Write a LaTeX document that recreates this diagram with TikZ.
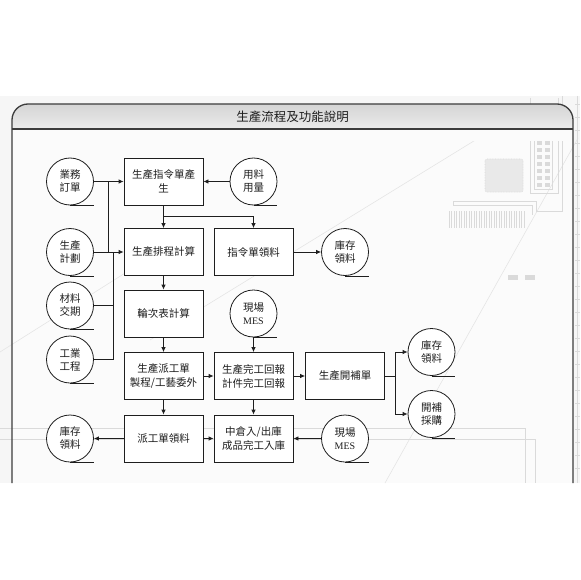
\documentclass[tikz,border=0pt]{standalone}
\usepackage{fontspec}
\setmainfont{Noto Sans CJK TC}
\newfontfamily\latinserif{Liberation Serif}
\usepackage{tikz}
\usetikzlibrary{arrows.meta,calc,positioning}
\definecolor{inkdark}{RGB}{30,30,30}
\definecolor{framegrey}{RGB}{60,60,60}
\definecolor{decogrey}{RGB}{218,218,218}
\definecolor{panelgrey}{RGB}{246,246,246}
\definecolor{headtop}{RGB}{212,212,212}
\definecolor{headbottom}{RGB}{246,246,246}
\tikzset{
  >={Latex[length=5pt,width=4.5pt]},
  flow/.style={->, line width=0.8pt, draw=inkdark},
  link/.style={line width=0.8pt, draw=inkdark},
  procbox/.style={
    draw=inkdark,
    line width=0.8pt,
    fill=white,
    align=center,
    inner sep=0pt,
    minimum width=79pt,
    minimum height=47pt,
    font=\fontsize{10.5}{14}\selectfont,
    text=inkdark
  },
  datacirc/.style={
    circle,
    draw=inkdark,
    line width=0.8pt,
    fill=white,
    align=center,
    inner sep=0pt,
    minimum size=47pt,
    font=\fontsize{10.5}{13}\selectfont,
    text=inkdark,
    append after command={
      (\tikzlastnode.south) edge[line width=0.8pt,draw=inkdark] (\tikzlastnode.south -| \tikzlastnode.east)
    }
  },
  deco/.style={draw=decogrey, line width=0.6pt},
  mestext/.style={font=\latinserif\fontsize{10}{13}\selectfont}
}

\begin{document}
\begin{tikzpicture}[x=1pt,y=-1pt]
\useasboundingbox (0,0) rectangle (580,580);
% backdrop
\fill[white] (0,0) rectangle (580,580);
\fill[panelgrey] (0,96) rectangle (580,483);
\fill[white!60!panelgrey] (12,129) rectangle (573,483);
% faint board decoration
\draw[deco, draw=decogrey!70] (150,340) -- (495,128);
\draw[deco, draw=decogrey!70] (385,483) -- (578,138);
\draw[deco, draw=decogrey!70] (0,352) -- (130,270);
\draw[deco] (0,428) -- (525,428) -- (525,483);
\draw[deco] (0,439) -- (535,439) -- (535,483);
\draw[deco, rounded corners=2pt, fill=decogrey!60, densely dotted] (485,159) rectangle (523,192);
\draw[deco] (530,98) -- (530,193) -- (558,193) -- (558,98);
\draw[deco] (534,130) rectangle (552,189);
\foreach \yy in {134,141,...,183}{
  \fill[decogrey] (537,\yy) rectangle (542,\yy+4);
  \fill[decogrey] (545,\yy) rectangle (550,\yy+4);
}
\draw[deco] (453,201) -- (536,201) -- (536,211) -- (562,211) -- (562,96);
\draw[deco] (453,201) -- (453,205) -- (532,205) -- (532,215);
\foreach \xx in {449,451.5,...,526}{
  \draw[decogrey, line width=0.5pt] (\xx,211) -- (\xx,228);
}
\fill[decogrey] (508,275) rectangle (518,280);
\fill[decogrey] (525,275) rectangle (535,280);
\draw[deco] (577,96) -- (577,483);
\foreach \yy in {104,117,...,480}{
  \draw[deco] (575,\yy) -- (580,\yy);
}
% frame and title bar
\shade[top color=headtop, bottom color=headbottom, rounded corners=16pt]
  (12,140) -- (12,104) -- (573,104) -- (573,140) -- cycle;
\fill[white!60!panelgrey] (12,129) rectangle (573,141);
\draw[framegrey, line width=1.3pt, rounded corners=16pt]
  (12,483) -- (12,104) -- (573,104) -- (573,483);
\draw[framegrey, line width=1.3pt] (12,129) -- (573,129);
\node[font=\fontsize{12.5}{14}\selectfont, text=inkdark] (title) at (292.5,117) {生產流程及功能說明};

% process boxes
\node[procbox] (order) at (163.5,181.5) {生產指令單產\\生};
\node[procbox] (sched) at (163.5,252) {生產排程計算};
\node[procbox] (pick) at (253.5,252) {指令單領料};
\node[procbox] (rota) at (163.5,313.5) {輪次表計算};
\node[procbox] (dispatch) at (163.5,376) {生產派工單\\製程/工藝委外};
\node[procbox] (report) at (253.5,376) {生產完工回報\\計件完工回報};
\node[procbox] (refill) at (345,376) {生產開補單};
\node[procbox] (dpick) at (163.5,438.5) {派工單領料};
\node[procbox] (store) at (253.5,438.5) {中倉入/出庫\\成品完工入庫};

% data circles
\node[datacirc] (sales) at (70,181.5) {業務\\訂單};
\node[datacirc] (usage) at (253.5,181.5) {用料\\用量};
\node[datacirc] (plan) at (70,252) {生產\\計劃};
\node[datacirc] (stockA) at (345,252) {庫存\\領料};
\node[datacirc] (matdate) at (70,305.5) {材料\\交期};
\node[datacirc] (mesA) at (253.5,313.5) {現場\\{\latinserif\fontsize{10}{13}\selectfont MES}};
\node[datacirc] (ie) at (70,359.5) {工業\\工程};
\node[datacirc] (stockB) at (431.5,352) {庫存\\領料};
\node[datacirc] (buy) at (431.5,414) {開補\\採購};
\node[datacirc] (stockC) at (70,438.5) {庫存\\領料};
\node[datacirc] (mesB) at (345,438.5) {現場\\{\latinserif\fontsize{10}{13}\selectfont MES}};

% inputs on the left
\coordinate (busA) at (108,0);
\coordinate (busB) at (113,0);
\draw[flow] (sales.east) -- (order.west);
\draw[flow] (plan.east) -- (sched.west);
\draw[link] (sales.east -| busA) -- (plan.east -| busA);
\draw[link] (plan.east -| busB) -- (ie.east -| busB);
\draw[link] (matdate.east) -- (matdate.east -| busB);
\draw[link] (ie.east) -- (ie.east -| busB);
\draw[flow] (usage.west) -- (order.east);

% main flow
\coordinate (split) at (163.5,216);
\draw[flow] (order.south) -- (sched.north);
\draw[flow] (split) -| (pick.north);
\draw[flow] (pick.east) -- (stockA.west);
\draw[flow] (sched.south) -- (rota.north);
\draw[flow] (rota.south) -- (dispatch.north);
\draw[flow] (mesA.south) -- (report.north);
\draw[flow] (dispatch.east) -- (report.west);
\draw[flow] (report.east) -- (refill.west);
\coordinate (fork) at (395.7,376);
\draw[link] (refill.east) -- (fork);
\draw[flow] (fork) |- (stockB.west);
\draw[flow] (fork) |- (buy.west);
\draw[flow] (dispatch.south) -- (dpick.north);
\draw[flow] (report.south) -- (store.north);
\draw[flow] (dpick.west) -- (stockC.east);
\draw[flow] (dpick.east) -- (store.west);
\draw[flow] (mesB.west) -- (store.east);
\end{tikzpicture}
\end{document}
